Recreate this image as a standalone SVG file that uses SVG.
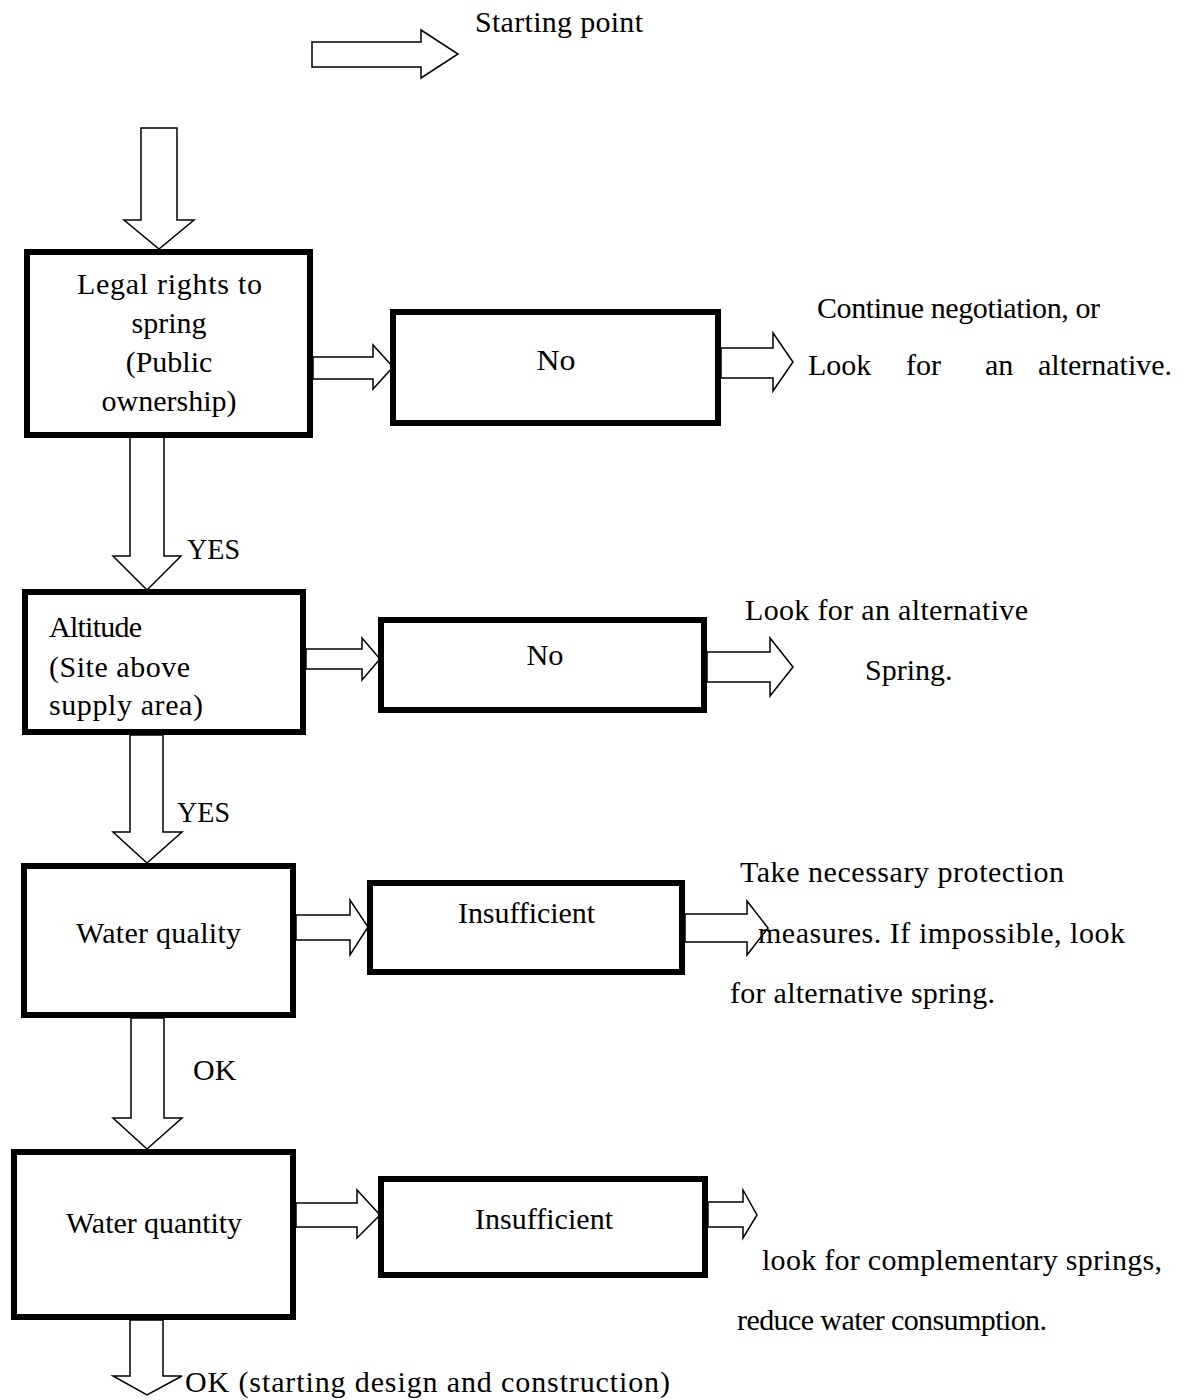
<svg xmlns="http://www.w3.org/2000/svg" width="1187" height="1400" viewBox="0 0 1187 1400">
<style>
text{font-family:"Liberation Serif","Times New Roman",serif;font-size:30px;fill:#000}
.box{fill:#fff;stroke:#000;stroke-width:6}
.arr{fill:#fff;stroke:#000;stroke-width:1.5;stroke-linejoin:miter}
.c{text-anchor:middle}
</style>
<rect width="1187" height="1400" fill="#fff"/>
<g id="connectors">
<polygon class="arr" points="312,42 421,42 421,30 458,54 421,78 421,67 312,67"/>
<polygon class="arr" points="141,128 177,128 177,220 194,220 159,249 124,220 141,220"/>
<polygon class="arr" points="313,357 373,357 373,345 393,367 373,389 373,379 313,379"/>
<polygon class="arr" points="721,348 773,348 773,333 793,362 773,391 773,378 721,378"/>
<polygon class="arr" points="130,436 164,436 164,556 181,556 147,590 113,556 130,556"/>
<polygon class="arr" points="306,649 362,649 362,638 380,659 362,680 362,669 306,669"/>
<polygon class="arr" points="707,652 770,652 770,638 793,667 770,696 770,682 707,682"/>
<polygon class="arr" points="130,735 163,735 163,832 182,832 147,863 113,832 130,832"/>
<polygon class="arr" points="296,915 350,915 350,900 368,927 350,955 350,940 296,940"/>
<polygon class="arr" points="685,914 747,914 747,901 768,928 747,955 747,942 685,942"/>
<polygon class="arr" points="131,1018 164,1018 164,1118 182,1118 147,1149 113,1118 131,1118"/>
<polygon class="arr" points="296,1203 357,1203 357,1190 380,1215 357,1238 357,1227 296,1227"/>
<polygon class="arr" points="708,1202 743,1202 743,1190 757,1215 743,1238 743,1227 708,1227"/>
<polygon class="arr" points="130,1320 163,1320 163,1376 182,1376 147,1395 113,1376 130,1376"/>
<text x="187" y="559" textLength="53" lengthAdjust="spacingAndGlyphs">YES</text>
<text x="177" y="822" textLength="53" lengthAdjust="spacingAndGlyphs">YES</text>
<text x="193" y="1080">OK</text>
<text x="185" y="1392" textLength="485" lengthAdjust="spacing">OK  (starting  design  and  construction)</text>
</g>
<g id="start">
<text x="475" y="32" textLength="168" lengthAdjust="spacing">Starting  point</text>
</g>
<g id="legal">
<rect class="box" x="27" y="252" width="283" height="183"/>
<text x="77" y="294" textLength="185" lengthAdjust="spacing">Legal rights  to</text>
<text class="c" x="169" y="333">spring</text>
<text class="c" x="169" y="372">(Public</text>
<text class="c" x="169" y="411">ownership)</text>
</g>
<g id="no1">
<rect class="box" x="393" y="312" width="325" height="111"/>
<text class="c" x="556" y="370" textLength="39" lengthAdjust="spacingAndGlyphs">No</text>
</g>
<g id="result1">
<text x="817" y="318" textLength="283" lengthAdjust="spacing">Continue  negotiation,  or</text>
<text x="808" y="375">Look</text>
<text x="906" y="375">for</text>
<text x="985" y="375">an</text>
<text x="1038" y="375" textLength="134" lengthAdjust="spacing">alternative.</text>
</g>
<g id="altitude">
<rect class="box" x="25" y="592" width="278" height="140"/>
<text x="49" y="637" textLength="93" lengthAdjust="spacing">Altitude</text>
<text x="49" y="677" textLength="141" lengthAdjust="spacing">(Site  above</text>
<text x="49" y="715" textLength="154" lengthAdjust="spacing">supply  area)</text>
</g>
<g id="no2">
<rect class="box" x="381" y="620" width="323" height="90"/>
<text class="c" x="545" y="665" textLength="37" lengthAdjust="spacingAndGlyphs">No</text>
</g>
<g id="result2">
<text x="745" y="620" textLength="283" lengthAdjust="spacing">Look for an alternative</text>
<text x="865" y="680">Spring.</text>
</g>
<g id="quality">
<rect class="box" x="24" y="866" width="269" height="149"/>
<text x="76" y="943" textLength="165" lengthAdjust="spacing">Water quality</text>
</g>
<g id="ins1">
<rect class="box" x="370" y="883" width="312" height="89"/>
<text x="458" y="923" textLength="137" lengthAdjust="spacing">Insufficient</text>
</g>
<g id="result3">
<text x="740" y="882" textLength="324" lengthAdjust="spacing">Take necessary  protection</text>
<text x="758" y="943" textLength="367" lengthAdjust="spacing">measures.  If impossible,  look</text>
<text x="730" y="1003" textLength="265" lengthAdjust="spacing">for alternative  spring.</text>
</g>
<g id="quantity">
<rect class="box" x="14" y="1152" width="279" height="165"/>
<text x="66" y="1233" textLength="176" lengthAdjust="spacing">Water quantity</text>
</g>
<g id="ins2">
<rect class="box" x="381" y="1179" width="324" height="96"/>
<text x="475" y="1229" textLength="138" lengthAdjust="spacing">Insufficient</text>
</g>
<g id="result4">
<text x="762" y="1270" textLength="400" lengthAdjust="spacing">look for complementary  springs,</text>
<text x="737" y="1330" textLength="310" lengthAdjust="spacing">reduce water consumption.</text>
</g>
</svg>
